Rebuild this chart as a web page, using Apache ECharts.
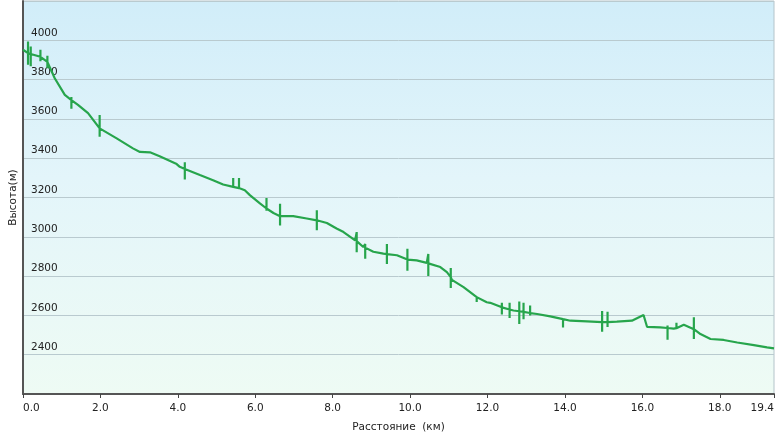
<!DOCTYPE html>
<html>
<head>
<meta charset="utf-8">
<script src="https://cdn.jsdelivr.net/npm/echarts@6/dist/echarts.min.js"></script>
<style>
html,body{margin:0;padding:0;background:#fff;}
#chart{width:776px;height:438px;}
</style>
</head>
<body>
<div id="chart"></div>
<script>
// Elevation profile
var profileKm = [0.00,0.13,0.20,0.45,0.63,0.82,1.08,1.25,1.42,1.68,1.98,2.03,2.42,2.84,3.02,3.28,3.53,3.97,4.05,4.18,4.57,4.91,5.17,5.43,5.58,5.73,5.86,6.12,6.29,6.47,6.64,6.98,7.33,7.59,7.85,8.10,8.28,8.58,8.62,8.79,8.84,9.05,9.31,9.40,9.66,9.93,10.17,10.43,10.47,10.78,10.95,11.05,11.08,11.38,11.72,11.98,12.07,12.37,12.57,12.67,12.82,12.93,13.10,13.28,13.62,13.95,14.14,14.57,14.96,15.10,15.34,15.73,16.03,16.12,16.46,16.65,16.81,16.88,17.07,17.33,17.50,17.76,18.10,18.45,18.88,19.22,19.40];
var profileM  = [3952,3935,3930,3916,3890,3807,3722,3696,3671,3629,3552,3545,3501,3450,3432,3430,3410,3370,3356,3345,3314,3288,3266,3254,3248,3237,3212,3170,3144,3121,3105,3105,3093,3084,3070,3042,3024,2982,2978,2948,2945,2924,2914,2912,2906,2884,2880,2867,2865,2846,2820,2795,2781,2744,2693,2667,2664,2641,2630,2625,2621,2618,2612,2607,2595,2581,2573,2570,2566,2566,2568,2573,2602,2542,2539,2536,2533,2535,2552,2530,2505,2480,2475,2462,2449,2437,2432];
// GPS noise spikes (vertical strokes)
var spikeKm     = [0.13,0.20,0.45,0.63,1.25,1.98,4.18,5.43,5.58,6.29,6.64,7.59,8.62,8.84,9.40,9.93,10.47,11.05,11.72,12.37,12.57,12.82,12.93,13.10,13.95,14.96,15.10,16.65,16.88,17.33];
var spikeTop    = [3994,3968,3952,3921,3711,3620,3380,3299,3299,3198,3168,3135,3024,2963,2963,2939,2913,2841,2693,2664,2664,2671,2664,2650,2581,2622,2618,2548,2563,2591];
var spikeBottom = [3875,3868,3893,3858,3652,3509,3292,3254,3248,3133,3058,3033,2922,2888,2861,2827,2801,2740,2668,2605,2587,2556,2580,2600,2539,2517,2541,2476,2535,2480];
// Axis settings
var xMin = 0, xMax = 19.4, xStep = 2;
var yMin = 2200, yMax = 4200, yStep = 200;
var xTitle = 'Расстояние  (км)';
var yTitle = 'Высота(м)';

var lineData = [];
for (var i = 0; i < profileKm.length; i++) {
  lineData.push([profileKm[i], profileM[i]]);
  var s = spikeKm.indexOf(profileKm[i]);
  if (s >= 0) {
    lineData.push([spikeKm[s], spikeTop[s]]);
    lineData.push([spikeKm[s], spikeBottom[s]]);
    lineData.push([profileKm[i], profileM[i]]);
  }
}

var chart = echarts.init(document.getElementById('chart'), null, {renderer: 'canvas'});
var font = 'DejaVu Sans, Verdana, sans-serif';
chart.setOption({
  animation: false,
  backgroundColor: '#ffffff',
  grid: {
    left: 23, right: 2, top: 1, bottom: 44,
    containLabel: false,
    outerBoundsMode: 'none',
    show: true,
    borderColor: '#b4c4ca',
    borderWidth: 1,
    backgroundColor: {
      type: 'linear', x: 0, y: 0, x2: 0, y2: 1,
      colorStops: [
        {offset: 0, color: '#d1edf9'},
        {offset: 0.45, color: '#e3f5fa'},
        {offset: 1, color: '#eefbf4'}
      ]
    }
  },
  xAxis: {
    type: 'value',
    min: xMin, max: xMax, interval: xStep,
    name: xTitle,
    nameLocation: 'middle',
    nameGap: 28,
    nameTextStyle: {fontFamily: font, fontSize: 10.5, color: '#222'},
    axisLine: {show: true, onZero: false, lineStyle: {color: '#555555', width: 2}},
    axisTick: {show: true, length: 4, lineStyle: {color: '#444', width: 1}},
    axisLabel: {
      fontFamily: font, fontSize: 10.5, color: '#222', margin: 9,
      showMinLabel: true, showMaxLabel: true,
      alignMinLabel: 'left', alignMaxLabel: 'right',
      formatter: function (v) { return v.toFixed(1); }
    },
    splitLine: {show: false}
  },
  yAxis: {
    type: 'value',
    min: yMin, max: yMax, interval: yStep,
    name: yTitle,
    nameLocation: 'middle',
    nameGap: 4,
    nameMoveOverlap: false,
    nameTextStyle: {fontFamily: font, fontSize: 10.5, color: '#222'},
    axisLine: {show: true, onZero: false, lineStyle: {color: '#555555', width: 2}},
    axisTick: {show: false},
    axisLabel: {
      inside: true, margin: 8,
      fontFamily: font, fontSize: 10.5, color: '#222',
      verticalAlign: 'bottom', padding: [0, 0, 2, 0],
      showMinLabel: false, showMaxLabel: false,
      formatter: function (v) { return String(v); }
    },
    splitLine: {show: true, lineStyle: {color: '#b9cacf', width: 1}}
  },
  series: [{
    type: 'line',
    data: lineData,
    showSymbol: false,
    symbol: 'none',
    lineStyle: {color: '#27a54c', width: 2.2, join: 'bevel'},
    z: 3
  }]
});
</script>
</body>
</html>
